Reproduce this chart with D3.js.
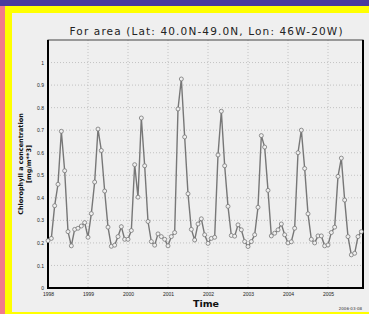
<!DOCTYPE html>
<html>
<head>
<meta charset="utf-8">
<script src="https://cdn.jsdelivr.net/npm/d3@7"></script>
<style>
body{margin:0;padding:0;overflow:hidden;}
</style>
</head>
<body>
<div id="chart"></div>
<script>
// monthly chlorophyll values, Jan 1998 .. Nov 2005
var startyear = 1998;
var chl1998 = [0.21,0.22,0.365,0.46,0.695,0.52,0.25,0.187,0.26,0.265,0.275,0.29];
var chl1999 = [0.225,0.33,0.47,0.705,0.61,0.43,0.27,0.185,0.19,0.228,0.272,0.216];
var chl2000 = [0.216,0.255,0.547,0.403,0.754,0.542,0.295,0.206,0.19,0.24,0.228,0.216];
var chl2001 = [0.187,0.228,0.246,0.794,0.927,0.67,0.418,0.26,0.213,0.284,0.307,0.236];
var chl2002 = [0.198,0.22,0.225,0.59,0.784,0.542,0.362,0.233,0.23,0.28,0.258,0.206];
var chl2003 = [0.184,0.206,0.236,0.358,0.676,0.625,0.433,0.231,0.243,0.258,0.284,0.236];
var chl2004 = [0.2,0.205,0.265,0.6,0.7,0.53,0.329,0.216,0.2,0.231,0.231,0.187];
var chl2005 = [0.191,0.246,0.27,0.495,0.576,0.39,0.228,0.147,0.154,0.228,0.25];
var yearticks = [1998,1999,2000,2001,2002,2003,2004,2005];
var yticks = [0,0.1,0.2,0.3,0.4,0.5,0.6,0.7,0.8,0.9,1];
var ytickLabels = ["0","0.1","0.2","0.3","0.4","0.5","0.6","0.7","0.8","0.9","1"];

var drawchart = function(){
    var values = [].concat(chl1998,chl1999,chl2000,chl2001,chl2002,chl2003,chl2004,chl2005);
    var data = values.map(function(v,i){return {t:startyear+i/12,v:v};});

    var width = 369;
    var height = 314;
    var svg = d3.select("#chart")
        .append("svg")
        .attr("width",width)
        .attr("height",height)
        .attr("font-family","'DejaVu Sans', sans-serif");

    // frame colours
    svg.append("rect").attr("width",width).attr("height",height).attr("fill","#ffff00");
    svg.append("rect").attr("width",width).attr("height",6).attr("fill","#4a3a9e");
    svg.append("rect").attr("y",6).attr("width",5).attr("height",height-6).attr("fill","#f27b8b");
    svg.append("rect").attr("x",12).attr("y",13).attr("width",width-12).attr("height",299).attr("fill","#efefef");

    var pl = 48, pr = 363, pt = 40, pb = 288;
    var x = d3.scaleLinear().domain([1998,1998+94.5/12]).range([pl,pr]);
    var y = d3.scaleLinear().domain([0,1.1]).range([pb,pt]);

    // grid
    svg.append("g")
        .selectAll("line")
        .data(yticks.slice(1))
        .enter()
        .append("line")
        .attr("x1",pl).attr("x2",pr)
        .attr("y1",d=>y(d)).attr("y2",d=>y(d))
        .attr("stroke","#b8b8b8")
        .attr("stroke-width",0.8)
        .attr("stroke-dasharray","1,2");
    svg.append("g")
        .selectAll("line")
        .data(yearticks.slice(1))
        .enter()
        .append("line")
        .attr("x1",d=>x(d)).attr("x2",d=>x(d))
        .attr("y1",pt).attr("y2",pb)
        .attr("stroke","#b8b8b8")
        .attr("stroke-width",0.8)
        .attr("stroke-dasharray","1,2");

    // axes
    var yaxis = d3.axisLeft(y).tickValues(yticks).tickSize(0).tickPadding(4)
        .tickFormat((d,i)=>ytickLabels[i]);
    var ya = svg.append("g").attr("transform",`translate(${pl},0)`).call(yaxis);
    ya.select(".domain").remove();
    ya.selectAll("text").attr("font-size",5).attr("fill","#222");

    var xaxis = d3.axisBottom(x).tickValues(yearticks).tickSize(0).tickPadding(4)
        .tickFormat(d3.format("d"));
    var xa = svg.append("g").attr("transform",`translate(0,${pb})`).call(xaxis);
    xa.select(".domain").remove();
    xa.selectAll("text").attr("font-size",5).attr("fill","#222");

    // plot border
    svg.append("rect")
        .attr("x",pl).attr("y",pt)
        .attr("width",pr-pl).attr("height",pb-pt)
        .attr("fill","none")
        .attr("stroke","#444")
        .attr("stroke-width",1);
    svg.append("path")
        .attr("d",`M${pl},${pt}V${pb}H${pr}V${pt}`)
        .attr("fill","none")
        .attr("stroke","#000")
        .attr("stroke-width",2);

    // series
    var line = d3.line().x(d=>x(d.t)).y(d=>y(d.v));
    svg.append("path")
        .datum(data)
        .attr("d",line)
        .attr("fill","none")
        .attr("stroke","#777")
        .attr("stroke-width",1.4);
    svg.append("g")
        .selectAll("circle")
        .data(data)
        .enter()
        .append("circle")
        .attr("cx",d=>x(d.t))
        .attr("cy",d=>y(d.v))
        .attr("r",2)
        .attr("fill","#efefef")
        .attr("stroke","#777")
        .attr("stroke-width",0.8);

    // titles
    svg.append("text")
        .attr("x",206).attr("y",35)
        .attr("text-anchor","middle")
        .attr("font-size",10.5)
        .attr("fill","#222")
        .attr("textLength",273)
        .text("For area (Lat: 40.0N-49.0N, Lon: 46W-20W)");
    svg.append("text")
        .attr("x",206).attr("y",307)
        .attr("text-anchor","middle")
        .attr("font-size",9.5)
        .attr("font-weight","bold")
        .attr("fill","#111")
        .text("Time");
    svg.append("text")
        .attr("transform","translate(23,164)rotate(-90)")
        .attr("text-anchor","middle")
        .attr("font-size",6.5)
        .attr("font-weight","bold")
        .attr("fill","#111")
        .text("Chlorophyll a concentration");
    svg.append("text")
        .attr("transform","translate(31,164)rotate(-90)")
        .attr("text-anchor","middle")
        .attr("font-size",6.5)
        .attr("font-weight","bold")
        .attr("fill","#111")
        .text("[mg/m**3]");
    svg.append("text")
        .attr("x",362).attr("y",310)
        .attr("text-anchor","end")
        .attr("font-size",4)
        .attr("fill","#333")
        .text("2006-03-08");
};
drawchart();
</script>
</body>
</html>
